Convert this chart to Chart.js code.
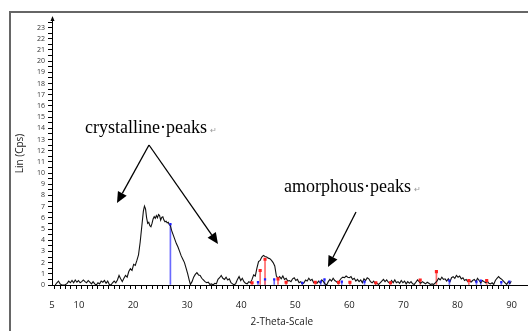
<!DOCTYPE html>
<html>
<head>
<meta charset="utf-8">
<script src="https://cdn.jsdelivr.net/npm/chart.js@4/dist/chart.umd.min.js"></script>
<style>
  html, body { margin: 0; padding: 0; background: #fff; }
  #wrap { position: relative; width: 528px; height: 331px; overflow: hidden; }
  #frame { position: absolute; left: 9px; top: 11px; width: 600px; height: 400px; border: 2px solid #666; box-sizing: border-box; }
  canvas { position: absolute; left: 0; top: 0; }
</style>
</head>
<body>
<div id="wrap">
  <div id="frame"></div>
  <canvas id="xrd" width="528" height="331"></canvas>
</div>
<script>
// scan: 2-theta (deg) and intensity (Cps)
const theta = [
  5.6, 5.9, 6.2, 6.5, 6.8, 7.4, 7.8, 8.1, 8.4, 8.7, 9.0, 9.3, 9.6, 9.9, 10.2, 10.5, 10.8, 11.1, 11.4, 11.7,
  12.0, 12.3, 12.6, 12.9, 13.2, 13.5, 13.8, 14.1, 14.4, 14.7, 15.0, 15.3, 15.6, 15.9, 16.2, 16.5, 16.8, 17.1, 17.4, 17.7,
  18.0, 18.3, 18.6, 18.9, 19.2, 19.5, 19.8, 20.1, 20.4, 20.7, 21.0, 21.3, 21.6, 21.9, 22.1, 22.3, 22.5, 22.7, 22.9, 23.1,
  23.3, 23.5, 23.7, 23.9, 24.1, 24.3, 24.5, 24.7, 24.9, 25.1, 25.3, 25.5, 25.7, 25.9, 26.1, 26.3, 26.5, 26.7, 26.9, 27.1,
  27.4, 27.7, 28.0, 28.3, 28.6, 28.9, 29.2, 29.5, 29.8, 30.1, 30.4, 30.6, 30.9, 31.2, 31.5, 31.8, 32.1, 32.4, 32.7, 33.0,
  33.3, 33.6, 33.9, 34.2, 34.5, 34.8, 35.1, 35.4, 35.7, 36.0, 36.3, 36.6, 36.9, 37.2, 37.5, 37.8, 38.1, 38.4, 38.7, 39.0,
  39.3, 39.6, 39.9, 40.2, 40.5, 40.8, 41.1, 41.4, 41.7, 42.0, 42.3, 42.6, 42.9, 43.2, 43.5, 43.8, 44.1, 44.4, 44.7, 45.0,
  45.3, 45.6, 45.9, 46.2, 46.5, 46.8, 47.1, 47.4, 47.7, 48.0, 48.3, 48.6, 48.9, 49.2, 49.5, 49.8, 50.1, 50.4, 50.7, 51.0,
  51.3, 51.6, 51.9, 52.2, 52.5, 52.8, 53.1, 53.4, 53.7, 54.0, 54.3, 54.6, 54.9, 55.2, 55.5, 55.8, 56.1, 56.4, 56.7, 57.0,
  57.3, 57.6, 57.9, 58.2, 58.5, 58.8, 59.1, 59.4, 59.7, 60.0, 60.3, 60.6, 60.9, 61.2, 61.5, 61.8, 62.1, 62.4, 62.7, 63.0,
  63.3, 63.6, 63.9, 64.2, 64.5, 64.8, 65.1, 65.4, 65.7, 66.0, 66.3, 66.6, 66.9, 67.2, 67.5, 67.8, 68.1, 68.4, 68.7, 69.0,
  69.3, 69.6, 69.9, 70.2, 70.5, 70.8, 71.1, 71.4, 71.7, 72.0, 72.3, 72.6, 72.9, 73.2, 73.5, 73.8, 74.1, 74.4, 74.7, 75.0,
  75.3, 75.6, 75.9, 76.2, 76.5, 76.8, 77.1, 77.4, 77.7, 78.0, 78.3, 78.6, 78.9, 79.2, 79.5, 79.8, 80.1, 80.4, 80.7, 81.0,
  81.3, 81.6, 81.9, 82.2, 82.5, 82.8, 83.1, 83.4, 83.7, 84.0, 84.3, 84.6, 84.9, 85.2, 85.5, 85.8, 86.1, 86.4, 86.7, 87.0,
  87.3, 87.6, 87.9, 88.2, 88.5, 88.8, 89.1, 89.4, 89.7, 90.0
];
const counts = [
  0, 0.2, 0.35, 0.1, 0, 0, 0.15, 0.35, 0.2, 0.4, 0.2, 0.45, 0.25, 0.4, 0.2, 0.3, 0.45, 0.3, 0.2, 0.4,
  0.25, 0.1, 0.3, 0.1, 0, 0.2, 0.1, 0.35, 0.25, 0.4, 0.15, 0.35, 0.05, 0, 0.2, 0.35, 0.2, 0.45, 0.85, 0.55,
  0.3, 0.6, 0.85, 0.7, 1.2, 1.45, 1.3, 1.85, 1.75, 2.2, 2.7, 3.8, 5.2, 6.6, 7.05, 6.8, 6.0, 5.5, 5.6, 5.3,
  5.2, 5.5, 5.9, 6.1, 5.95, 6.2, 6.0, 6.3, 6.2, 5.8, 6.05, 6.1, 5.8, 5.65, 5.7, 5.55, 5.6, 5.4, 5.3, 4.9,
  4.5, 4.1, 3.7, 3.4, 3.0, 2.6, 2.3, 2.0, 1.5, 1.0, 0.4, 0.05, 0.3, 0.7, 0.95, 1.1, 0.9, 0.85, 0.6, 0.45,
  0.3, 0.2, 0.25, 0.05, 0.1, 0, 0.15, 0.1, 0.5, 0.65, 0.85, 0.6, 0.5, 0.7, 0.45, 0.55, 0.2, 0.1, 0, 0.15,
  0.5, 0.75, 0.4, 0.6, 0.3, 0.15, 0.1, 0.3, 0.2, 0.5, 0.9, 0.8, 1.5, 2.1, 2.2, 2.5, 2.65, 2.55, 2.5, 2.4,
  2.35, 2.2, 2.0, 1.7, 0.8, 0.6, 0.75, 0.55, 0.8, 0.5, 0.6, 0.35, 0.4, 0.3, 0.55, 0.65, 0.4, 0.5, 0.2, 0.3,
  0.1, 0.2, 0.45, 0.35, 0.6, 0.4, 0.5, 0.2, 0.3, 0.15, 0.35, 0.2, 0.45, 0.3, 0.1, 0, 0.3, 0.5, 0.35, 0.6,
  0.4, 0.3, 0.15, 0.4, 0.6, 0.7, 0.65, 0.8, 0.7, 0.65, 0.75, 0.5, 0.6, 0.35, 0.5, 0.3, 0.45, 0.2, 0.55, 0.4,
  0.65, 0.55, 0.3, 0.2, 0.35, 0.1, 0.15, 0.05, 0.2, 0.35, 0.5, 0.3, 0.45, 0.25, 0.15, 0.4, 0.2, 0.45, 0.2, 0.3,
  0.15, 0.4, 0.2, 0.35, 0.1, 0.3, 0.15, 0.3, 0.1, 0.05, 0.25, 0.45, 0.3, 0.15, 0.3, 0.2, 0.1, 0.25, 0.15, 0.05,
  0.1, 0.05, 0.2, 0.35, 0.6, 0.45, 0.7, 0.5, 0.55, 0.35, 0.55, 0.3, 0.65, 0.75, 0.6, 0.85, 0.7, 0.8, 0.55, 0.65,
  0.4, 0.5, 0.3, 0.45, 0.25, 0.4, 0.5, 0.3, 0.6, 0.4, 0.2, 0.4, 0.3, 0.2, 0.35, 0.15, 0.1, 0.2, 0.05, 0.4,
  0.6, 0.75, 0.6, 0.5, 0.35, 0.2, 0.05, 0.3, 0.15, 0.35
];

// reference pattern sticks
const redTheta = [42.0, 43.5, 44.4, 46.8, 48.3, 53.7, 58.0, 60.1, 64.9, 67.6, 73.1, 76.1, 82.1, 85.4];
const redInt = [0.2, 1.3, 2.3, 0.55, 0.25, 0.25, 0.25, 0.25, 0.2, 0.2, 0.45, 1.2, 0.4, 0.4];
const blueTheta = [26.9, 43.1, 44.4, 46.1, 51.3, 54.7, 55.4, 58.6, 62.8, 78.5, 83.5, 84.3, 88.1, 89.6];
const blueInt = [5.45, 0.25, 0.5, 0.5, 0.2, 0.3, 0.5, 0.3, 0.3, 0.4, 0.3, 0.4, 0.25, 0.3];

// tick settings
const xMin = 5, xMax = 90, xLabelled = [5, 10, 20, 30, 40, 50, 60, 70, 80, 90];
const yMin = 0, yMax = 23.5;

const RED = "#ff2020", RED_STEM = "#ff6a6a";
const BLUE = "#2020ff", BLUE_STEM = "#6a6aff";
const UI_FONT = "'Open Sans', 'Noto Sans', sans-serif";

const scan = theta.map((t, i) => ({ x: t, y: counts[i] }));
const redPts = redTheta.map((t, i) => ({ x: t, y: redInt[i] }));
const bluePts = blueTheta.map((t, i) => ({ x: t, y: blueInt[i] }));

const annotations = {
  id: "annotations",
  afterDraw(chart) {
    const ctx = chart.ctx;
    const { left, right, bottom, top } = chart.chartArea;
    ctx.save();
    // axis extension + arrow on y axis
    ctx.strokeStyle = "#000";
    ctx.fillStyle = "#000";
    ctx.lineWidth = 1;
    ctx.beginPath();
    ctx.moveTo(right, bottom + 0.5);
    ctx.lineTo(chart.width, bottom + 0.5);
    ctx.moveTo(left + 0.5, top);
    ctx.lineTo(left + 0.5, top - 4);
    ctx.stroke();
    ctx.beginPath();
    ctx.moveTo(left + 0.5, top - 6);
    ctx.lineTo(left - 1.5, top - 1);
    ctx.lineTo(left + 2.5, top - 1);
    ctx.closePath();
    ctx.fill();

    const arrow = (x1, y1, x2, y2) => {
      ctx.lineWidth = 1.3;
      const a = Math.atan2(y2 - y1, x2 - x1);
      const len = 11, w = 5;
      const bx = x2 - len * Math.cos(a), by = y2 - len * Math.sin(a);
      ctx.beginPath();
      ctx.moveTo(x1, y1);
      ctx.lineTo(bx, by);
      ctx.stroke();
      ctx.beginPath();
      ctx.moveTo(x2, y2);
      ctx.lineTo(bx + w * Math.sin(a), by - w * Math.cos(a));
      ctx.lineTo(bx - w * Math.sin(a), by + w * Math.cos(a));
      ctx.closePath();
      ctx.fill();
    };
    arrow(149, 145, 117, 203);
    arrow(149, 145, 218, 244);
    arrow(356, 212, 328, 267);

    ctx.textBaseline = "alphabetic";
    ctx.textAlign = "left";
    const label = (txt, x, y) => {
      ctx.font = '18px "Liberation Serif", "Times New Roman", serif';
      ctx.fillStyle = "#000";
      ctx.fillText(txt, x, y);
      const w = ctx.measureText(txt).width;
      ctx.font = '8px "Liberation Serif", serif';
      ctx.fillStyle = "#999";
      ctx.fillText("\u21b5", x + w + 3, y);
    };
    label("crystalline\u00b7peaks", 85, 133);
    label("amorphous\u00b7peaks", 284, 192);
    ctx.restore();
  },
};

new Chart(document.getElementById("xrd").getContext("2d"), {
  type: "scatter",
  data: {
    datasets: [
      { type: "bar", data: redPts, backgroundColor: RED_STEM, barThickness: 1, grouped: false, order: 3 },
      { type: "bar", data: bluePts, backgroundColor: BLUE_STEM, barThickness: 1, grouped: false, order: 3 },
      {
        type: "line",
        data: scan,
        borderColor: "#111",
        borderWidth: 1.1,
        pointRadius: 0,
        tension: 0,
        fill: false,
        order: 2,
      },
      {
        data: redPts,
        pointStyle: "rect",
        pointRadius: 2.2,
        backgroundColor: RED,
        borderColor: RED,
        borderWidth: 0,
        order: 1,
      },
      {
        data: bluePts,
        pointStyle: "rect",
        pointRadius: 1.6,
        backgroundColor: BLUE,
        borderColor: BLUE,
        borderWidth: 0,
        order: 1,
      },
    ],
  },
  options: {
    responsive: false,
    animation: false,
    events: [],
    layout: { padding: { left: 12, right: 7, top: 22, bottom: 0 } },
    plugins: { legend: { display: false }, tooltip: { enabled: false } },
    scales: {
      x: {
        type: "linear",
        min: xMin,
        max: xMax,
        offset: false,
        border: { color: "#000", width: 1 },
        grid: { drawOnChartArea: false, tickLength: 4, color: "#000" },
        ticks: {
          stepSize: 1,
          autoSkip: false,
          maxRotation: 0,
          padding: 11,
          color: "#222",
          font: { family: UI_FONT, size: 9.5 },
          callback: (v) => (xLabelled.includes(v) ? String(v) : ""),
        },
        title: {
          display: true,
          text: "2-Theta-Scale",
          color: "#222",
          font: { family: UI_FONT, size: 10 },
          padding: { top: 2, bottom: 3 },
        },
        afterFit: (s) => { s.height = 46; },
      },
      y: {
        type: "linear",
        min: yMin,
        max: yMax,
        border: { color: "#000", width: 1 },
        grid: { drawOnChartArea: false, tickLength: 4, color: "#000" },
        ticks: {
          stepSize: 0.5,
          autoSkip: false,
          padding: 3,
          color: "#333",
          font: { family: UI_FONT, size: 7 },
          callback: (v) => (Number.isInteger(v) ? String(v) : ""),
        },
        title: {
          display: true,
          text: "Lin (Cps)",
          color: "#222",
          font: { family: UI_FONT, size: 10 },
          padding: { top: 2, bottom: 0 },
        },
        afterFit: (s) => { s.width = 40; },
      },
    },
  },
  plugins: [annotations],
});
</script>
</body>
</html>
